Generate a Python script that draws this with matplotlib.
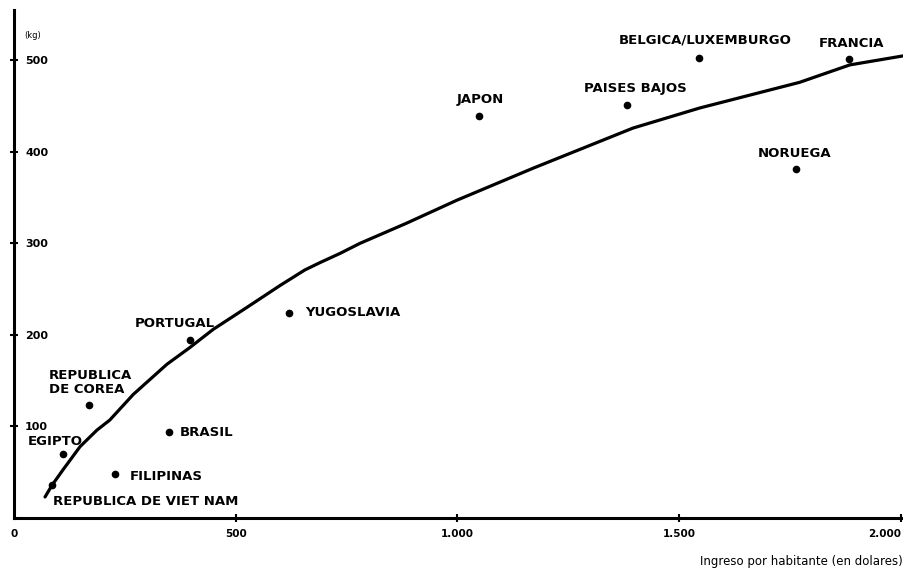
import matplotlib
matplotlib.use("Agg")
import matplotlib.pyplot as plt

# ---------------- datos ----------------
paises = ["REPUBLICA DE VIET NAM", "EGIPTO", "FILIPINAS", "BRASIL",
          "REPUBLICA\nDE COREA", "PORTUGAL", "YUGOSLAVIA", "JAPON",
          "PAISES BAJOS", "BELGICA/LUXEMBURGO", "FRANCIA", "NORUEGA"]
ingreso = [86, 111, 228, 350, 169, 397, 620, 1048, 1382, 1545, 1883, 1763]
kg = [36, 70, 48, 94, 124, 194, 224, 439, 451, 503, 501, 381]

# desplazamiento de las etiquetas (pixeles) respecto al punto
etiq_dx = [1, -35, 15, 11, -40, -55, 16, -22, -43, -80, -30, -38]
etiq_dy = [-16, 12, -2, -1, 22, 17, 0, 17, 17, 18, 16, 16]

# curva de tendencia
curva_x = [70, 86, 111, 149, 187, 216, 269, 345, 396, 449, 525, 600, 656,
           690, 735, 780, 885, 998, 1170, 1396, 1547, 1772, 1885, 2007]
curva_y = [23, 36, 53, 78, 96, 107, 135, 168, 186, 206, 230, 254, 271,
           279, 289, 300, 322, 347, 382, 426, 448, 476, 495, 505]

xticks = [0, 500, 1000, 1500, 2000]
xtick_labels = ["0", "500", "1.000", "1.500", "2.000"]
yticks = [100, 200, 300, 400, 500]
ytick_labels = ["100", "200", "300", "400", "500"]

# ---------------- grafico ----------------
fig = plt.figure(figsize=(9.04, 5.78), dpi=100)
ax = fig.add_axes([14 / 904, 60 / 578, 889 / 904, 508 / 578])
ax.set_xlim(0, 2005)
ax.set_ylim(0, 555)

ax.plot(curva_x, curva_y, color="black", linewidth=2.3,
        solid_capstyle="round", solid_joinstyle="round", clip_on=False)
ax.plot(ingreso, kg, "o", color="black", markersize=4.5, clip_on=False)

for nombre, x, y, dx, dy in zip(paises, ingreso, kg, etiq_dx, etiq_dy):
    ax.annotate(nombre, (x, y), xytext=(dx, dy), textcoords="offset pixels",
                ha="left", va="center", fontsize=9.5, fontweight="bold",
                linespacing=1.1)

for lado in ["top", "right"]:
    ax.spines[lado].set_visible(False)
for lado in ["left", "bottom"]:
    ax.spines[lado].set_linewidth(2.2)

ax.set_xticks(xticks)
ax.set_xticklabels(xtick_labels, fontsize=7.5, fontweight="bold")
ax.set_yticks(yticks)
ax.set_yticklabels(ytick_labels, fontsize=8, fontweight="bold", ha="left")
ax.tick_params(axis="both", direction="inout", length=6, width=1.5)
ax.tick_params(axis="x", pad=5)
ax.tick_params(axis="y", pad=-11)
ax.xaxis.get_major_ticks()[0].tick1line.set_visible(False)
ax.get_xticklabels()[-1].set_ha("right")

ax.text(10 / 889, 1 - 25 / 508, "(kg)", transform=ax.transAxes,
        fontsize=6, ha="left", va="center")
ax.text(1, -44 / 508, "Ingreso por habitante (en dolares)",
        transform=ax.transAxes, fontsize=8.5, ha="right", va="center")

plt.savefig("out.png", dpi=100)
